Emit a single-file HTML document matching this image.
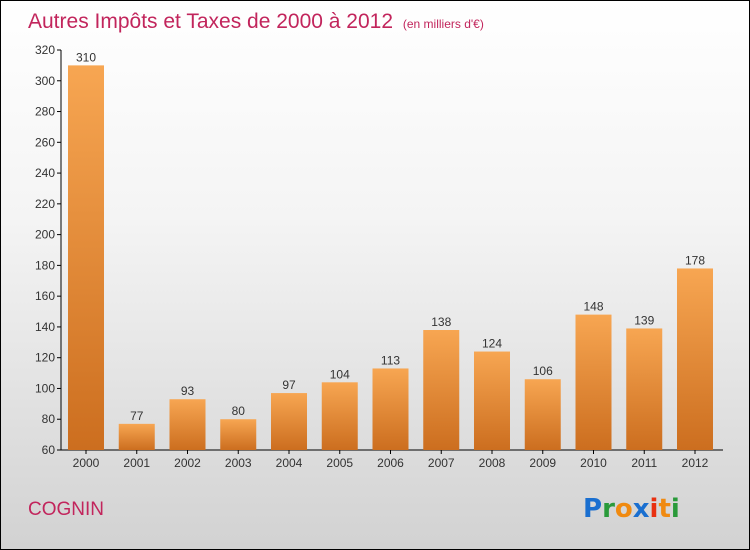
<!DOCTYPE html>
<html><head><meta charset="utf-8"><style>
body{margin:0}
#wrap{position:relative;width:748px;height:548px;border:1px solid #000;background:linear-gradient(#ffffff 0%,#f4f4f4 40%,#d2d2d2 100%);font-family:"Liberation Sans",sans-serif;overflow:hidden}
</style></head><body>
<div id="wrap">
<svg id="c" width="748" height="548">
<defs><linearGradient id="bg" x1="0" y1="0" x2="0" y2="1"><stop offset="0" stop-color="#f7a652"/><stop offset="1" stop-color="#cc6e1f"/></linearGradient></defs>
<text x="27" y="27" font-size="21" fill="#c2255c">Autres Impôts et Taxes de 2000 à 2012 <tspan font-size="12" dx="4">(en milliers d'€)</tspan></text>
<text x="27" y="514" font-size="19" fill="#c2255c">COGNIN</text>
<text x="582" y="516" font-size="26" font-weight="bold" font-family="'DejaVu Sans',sans-serif"><tspan fill="#1a6fd0">P</tspan><tspan fill="#2a9a3a">r</tspan><tspan fill="#f08a10">o</tspan><tspan fill="#1a6fd0">x</tspan><tspan fill="#e83010">i</tspan><tspan fill="#f08a10">t</tspan><tspan fill="#2a9a3a">i</tspan></text>
<g id="g"></g>
</svg>
</div>
<script>
const years=["2000","2001","2002","2003","2004","2005","2006","2007","2008","2009","2010","2011","2012"];
const values=[310,77,93,80,97,104,113,138,124,106,148,139,178];
const ticks=[60,80,100,120,140,160,180,200,220,240,260,280,300,320];
const NS="http://www.w3.org/2000/svg";
const g=document.getElementById('g');
const y=v=>449-(v-60)*400/260;
const x=i=>85+i*50.75;
function mk(t,a){const e=document.createElementNS(NS,t);for(const k in a)e.setAttribute(k,a[k]);g.appendChild(e);return e;}
const ax=mk('line',{x1:60,y1:y(320),x2:60,y2:449,stroke:'#000'});


const bx=mk('line',{x1:60,y1:449,x2:722,y2:449,stroke:'#000'});


ticks.forEach(t=>{
 const l=mk('line',{x1:56,y1:y(t),x2:60,y2:y(t),stroke:'#000'});
 
 
 const tx=mk('text',{x:54,y:y(t)+4,'font-size':12,'text-anchor':'end',fill:'#333'});
 tx.textContent=t;
 
 
});
years.forEach((yr,i)=>{
 const v=values[i];
 const r=mk('rect',{x:x(i)-18,y:y(v),width:36,height:449-y(v),fill:'url(#bg)'});
 
 
 const lb=mk('text',{x:x(i),y:y(v)-4,'font-size':12,'text-anchor':'middle',fill:'#333'});
 lb.textContent=v;
 
 
 const tk=mk('line',{x1:x(i),y1:449,x2:x(i),y2:453,stroke:'#000'});
 
 
 const xl=mk('text',{x:x(i),y:466,'font-size':12,'text-anchor':'middle',fill:'#333'});
 xl.textContent=yr;
 
 
});
</script>
</body></html>
